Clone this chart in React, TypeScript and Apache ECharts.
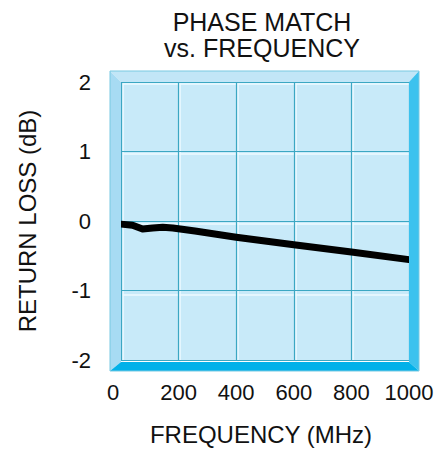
import React, { useEffect, useRef } from "react";
import * as echarts from "echarts";

const freqMHz = [0, 40, 75, 110, 145, 180, 257, 400, 600, 800, 1000];
const returnLossDb = [-0.045, -0.06, -0.115, -0.1, -0.09, -0.1, -0.145, -0.235, -0.343, -0.447, -0.556];
const xRange = [0, 1000];
const xStep = 200;
const yRange = [-2, 2];
const yStep = 1;
const titleLines = ["PHASE MATCH", "vs. FREQUENCY"];
const xName = "FREQUENCY (MHz)";
const yName = "RETURN LOSS (dB)";

const FONT = "'Liberation Sans', Arial, Helvetica, sans-serif";

export default function App() {
  const ref = useRef<HTMLDivElement>(null);
  useEffect(() => {
    if (!ref.current) return;
    const chart = echarts.init(ref.current, undefined, { renderer: "svg" });
    const G = { left: 121, top: 82, width: 288, height: 281 };
    const O = { x0: 110, y0: 71, x1: 419, y1: 371 };
    const I = { x0: 121, y0: 82, x1: 409, y1: 362 };
    const data = freqMHz.map((f, i) => [f, returnLossDb[i]]);
    const axisCommon = {
      axisLine: { show: false },
      axisTick: { show: false },
    };
    chart.setOption({
      animation: false,
      grid: [
        { ...G, show: true, backgroundColor: "#c8eaf9", borderWidth: 0, z: 0 },
        { left: G.left + 1.5, top: G.top + 1.5, width: G.width, height: G.height, show: false },
      ],
      xAxis: [
        {
          type: "value",
          gridIndex: 0,
          min: xRange[0],
          max: xRange[1],
          interval: xStep,
          z: 2,
          ...axisCommon,
          splitLine: { show: true, lineStyle: { color: "#3ba7c3", width: 1.2 } },
          axisLabel: {
            margin: 21,
            fontSize: 22,
            color: "#111",
            fontFamily: FONT,
            formatter: (v: number) => (v === 0 ? "{z|0}" : String(v)),
            rich: { z: { fontSize: 22, color: "#111", fontFamily: FONT, padding: [0, 16, 0, 0] } },
          },
          name: xName,
          nameLocation: "middle",
          nameGap: 62,
          nameTextStyle: { fontSize: 24, color: "#111", fontFamily: FONT, padding: [0, 8, 0, 0] },
        },
        {
          type: "value",
          gridIndex: 1,
          min: xRange[0],
          max: xRange[1],
          interval: xStep,
          z: 1,
          ...axisCommon,
          axisLabel: { show: false },
          splitLine: { show: true, lineStyle: { color: "#eefaff", width: 1.5 } },
        },
      ],
      yAxis: [
        {
          type: "value",
          gridIndex: 0,
          min: yRange[0],
          max: yRange[1],
          interval: yStep,
          z: 2,
          ...axisCommon,
          splitLine: { show: true, lineStyle: { color: "#3ba7c3", width: 1.2 } },
          axisLabel: {
            margin: 30,
            fontSize: 22,
            color: "#111",
            fontFamily: FONT,
            padding: [12, 0, 0, 0],
          },
          name: yName,
          nameLocation: "middle",
          nameGap: 82,
          nameTextStyle: { fontSize: 24, color: "#111", fontFamily: FONT },
        },
        {
          type: "value",
          gridIndex: 1,
          min: yRange[0],
          max: yRange[1],
          interval: yStep,
          z: 1,
          ...axisCommon,
          axisLabel: { show: false },
          splitLine: { show: true, lineStyle: { color: "#eefaff", width: 1.5 } },
        },
      ],
      series: [
        {
          type: "line",
          xAxisIndex: 0,
          yAxisIndex: 0,
          data,
          showSymbol: false,
          symbol: "none",
          z: 3,
          lineStyle: { color: "#000", width: 7, cap: "round", join: "round" },
        },
      ],
      graphic: [
        {
          type: "polygon",
          z: 10,
          shape: { points: [[O.x0, O.y0], [O.x1, O.y0], [I.x1, I.y0], [I.x0, I.y0]] },
          style: { fill: "#c2e6f7" },
        },
        {
          type: "polygon",
          z: 10,
          shape: { points: [[O.x0, O.y0], [I.x0, I.y0], [I.x0, I.y1], [O.x0, O.y1]] },
          style: { fill: "#a7dbf3" },
        },
        {
          type: "polygon",
          z: 10,
          shape: { points: [[O.x1, O.y0], [O.x1, O.y1], [I.x1, I.y1], [I.x1, I.y0]] },
          style: { fill: "#3cc2ee" },
        },
        {
          type: "polygon",
          z: 10,
          shape: { points: [[O.x0, O.y1], [I.x0, I.y1], [I.x1, I.y1], [O.x1, O.y1]] },
          style: { fill: "#02b1e9" },
        },
        {
          type: "rect",
          z: 11,
          shape: { x: O.x0, y: O.y0, width: O.x1 - O.x0, height: O.y1 - O.y0 },
          style: { fill: "none", stroke: "#79c9e2", lineWidth: 1 },
        },
        {
          type: "text",
          z: 12,
          style: {
            text: titleLines.join("\n"),
            x: 262,
            y: 9,
            align: "center",
            verticalAlign: "top",
            fontSize: 25,
            lineHeight: 26,
            fontFamily: FONT,
            fill: "#111",
          },
        },
      ],
    });
    return () => chart.dispose();
  }, []);
  return (
    <div
      ref={ref}
      style={{ position: "fixed", left: 0, top: 0, width: 446, height: 451, background: "#fff" }}
    />
  );
}
